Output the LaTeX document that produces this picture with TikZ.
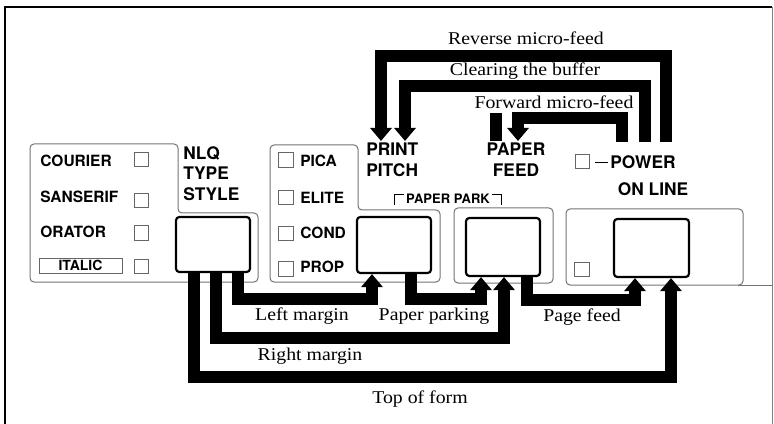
\documentclass[tikz,border=0pt]{standalone}
\usepackage{fontspec}
\setmainfont{Liberation Serif}
\newfontfamily\labfont[FakeStretch=1.1]{Liberation Serif}
\newfontfamily\keyfont{TeX Gyre Heros}
\usetikzlibrary{arrows.meta,calc}
\begin{document}
\begin{tikzpicture}[x=0.6pt,y=-0.6pt,
  panel/.style={draw=black!55, line width=0.6pt, rounded corners=2.4pt},
  btn/.style={draw=black, line width=1.3pt, rounded corners=2pt, inner sep=0pt},
  led/.style={draw=black!60, line width=0.5pt, minimum size=8.6pt, inner sep=0pt},
  head/.style={font=\keyfont\bfseries\fontsize{10.4}{12.3}\selectfont, inner sep=0pt},
  item/.style={font=\keyfont\bfseries\fontsize{9.3}{11}\selectfont, inner sep=0pt},
  lbl/.style={font=\labfont\fontsize{10.8}{12}\selectfont, inner sep=0pt},
  bar/.style={line width=7.2pt, line join=miter, line cap=butt},
  arr/.style={bar, -{Triangle[width=12.6pt,length=7.8pt]}},
]
\useasboundingbox (0,0) rectangle (774,424);
% frame
\draw[line width=0.9pt] (5,424) -- (5,7) -- (772,7);
\draw[line width=0.6pt, black!50] (772,7) -- (772,424);

% panels
\draw[panel] (30,282) -- (30,144) -- (178,144) -- (178,213) -- (258,213) -- (258,282) -- cycle;
\draw[panel] (270,282) -- (270,145) -- (358,145) -- (358,210) -- (440,210) -- (440,282) -- cycle;
\draw[panel] (454,208) rectangle (553,283);
\draw[panel] (566,209) rectangle (743,285);
\draw[panel, rounded corners=0pt] (738,285) -- (772,285);

% buttons
\node[btn, minimum width=44.4pt, minimum height=33pt] (nlq) at (213,244.5) {};
\node[btn, minimum width=44.4pt, minimum height=33.6pt] (pp) at (394,245) {};
\node[btn, minimum width=44.4pt, minimum height=34.8pt] (pf) at (503,247) {};
\node[btn, minimum width=45pt, minimum height=34.8pt] (ol) at (651.5,248) {};

% type style column
\node[item, anchor=west] (cou) at (40,161) {COURIER};
\node[item, anchor=west] (san) at (40,197) {SANSERIF};
\node[item, anchor=west] (ora) at (40,232) {ORATOR};
\node[draw=black!60, line width=0.5pt, minimum width=49.8pt, minimum height=9pt, inner sep=0pt,
      font=\keyfont\bfseries\fontsize{8.4}{10}\selectfont] (ita) at (80.5,265.5) {ITALIC};
\node[led] (lcou) at (141.5,159.5) {};
\node[led] (lsan) at (141.5,200.5) {};
\node[led] (lora) at (141.5,233) {};
\node[led] (lita) at (141.5,266.5) {};

% pitch column
\node[led] (lpic) at (286,160) {};
\node[led] (lel) at (286,197.5) {};
\node[led] (lcon) at (286,233.5) {};
\node[led] (lpro) at (286,269) {};
\node[item, anchor=west] (pica) at (300,161) {PICA};
\node[item, anchor=west] (elite) at (300,198) {ELITE};
\node[item, anchor=west] (cond) at (300,233) {COND};
\node[item, anchor=west] (prop) at (300,267) {PROP};

% headings
\node[head, anchor=north west, align=left] (nlql) at (183,146) {NLQ\\TYPE\\STYLE};
\node[head, anchor=north west, align=left] (ppl) at (366,143) {PRINT\\PITCH};
\node[head, anchor=north, align=center] (pfl) at (516,143) {PAPER\\FEED};
\node[led] (lpow) at (582.5,161.5) {};
\node[head, anchor=west] (pow) at (595,162) {\rule[0.3em]{0.75em}{0.09em}\hspace{0.12em}POWER};
\node[head] (onl) at (653,189) {ON LINE};
\node[led] (lol) at (582,269.5) {};

% paper park bracket
\node[font=\keyfont\bfseries\fontsize{7.8}{9}\selectfont, inner sep=0pt] (park) at (448,199) {PAPER PARK};
\draw[line width=0.6pt] ($(park.west)+(-11,6)$) |- ($(park.west)+(-2,-4)$);
\draw[line width=0.6pt] ($(park.east)+(2,-4)$) -| ($(park.east)+(11,6)$);

% top connectors
\coordinate (rvs) at (666,142);
\coordinate (cbs) at (645,142);
\coordinate (fws) at (622,142);
\draw[arr] (rvs) -- ++(0,-86) -| ($(ppl.north west)+(15,-2)$);
\draw[arr] (cbs) -- ++(0,-56) -| ($(ppl.north west)+(39,-2)$);
\draw[arr] (fws) -- ++(0,-24) -| ($(pfl.north)+(2,-2)$);
\draw[bar] ($(pfl.north)+(-20,-2)$) -- ++(0,-28);

\node[lbl] (rmf) at (526,38) {Reverse micro-feed};
\node[lbl] (ctb) at (525,71) {Clearing the buffer};
\node[lbl] (fmf) at (554,102) {Forward micro-feed};

% bottom connectors
\draw[arr] ($(nlq.south)+(-19,0)$) -- ++(0,104) -| ($(ol.south)+(19.5,0)$);
\draw[arr] ($(nlq.south)+(3,0)$) -- ++(0,65) -| ($(pf.south)+(1,0)$);
\draw[arr] ($(nlq.south)+(25,0)$) -- ++(0,26) -| ($(pp.south)+(-22,0)$);
\draw[arr] ($(pp.south)+(17,0)$) -- ++(0,25) -| ($(pf.south)+(-22,0)$);
\draw[arr] ($(pf.south)+(24,0)$) -- ++(0,23) -| ($(ol.south)+(-16.5,0)$);

\node[lbl] (lm) at (302,316) {Left margin};
\node[lbl] (ppk) at (434,316) {Paper parking};
\node[lbl] (pgf) at (582,317) {Page feed};
\node[lbl] (rm) at (310,356) {Right margin};
\node[lbl] (tof) at (420,399) {Top of form};
\end{tikzpicture}
\end{document}
